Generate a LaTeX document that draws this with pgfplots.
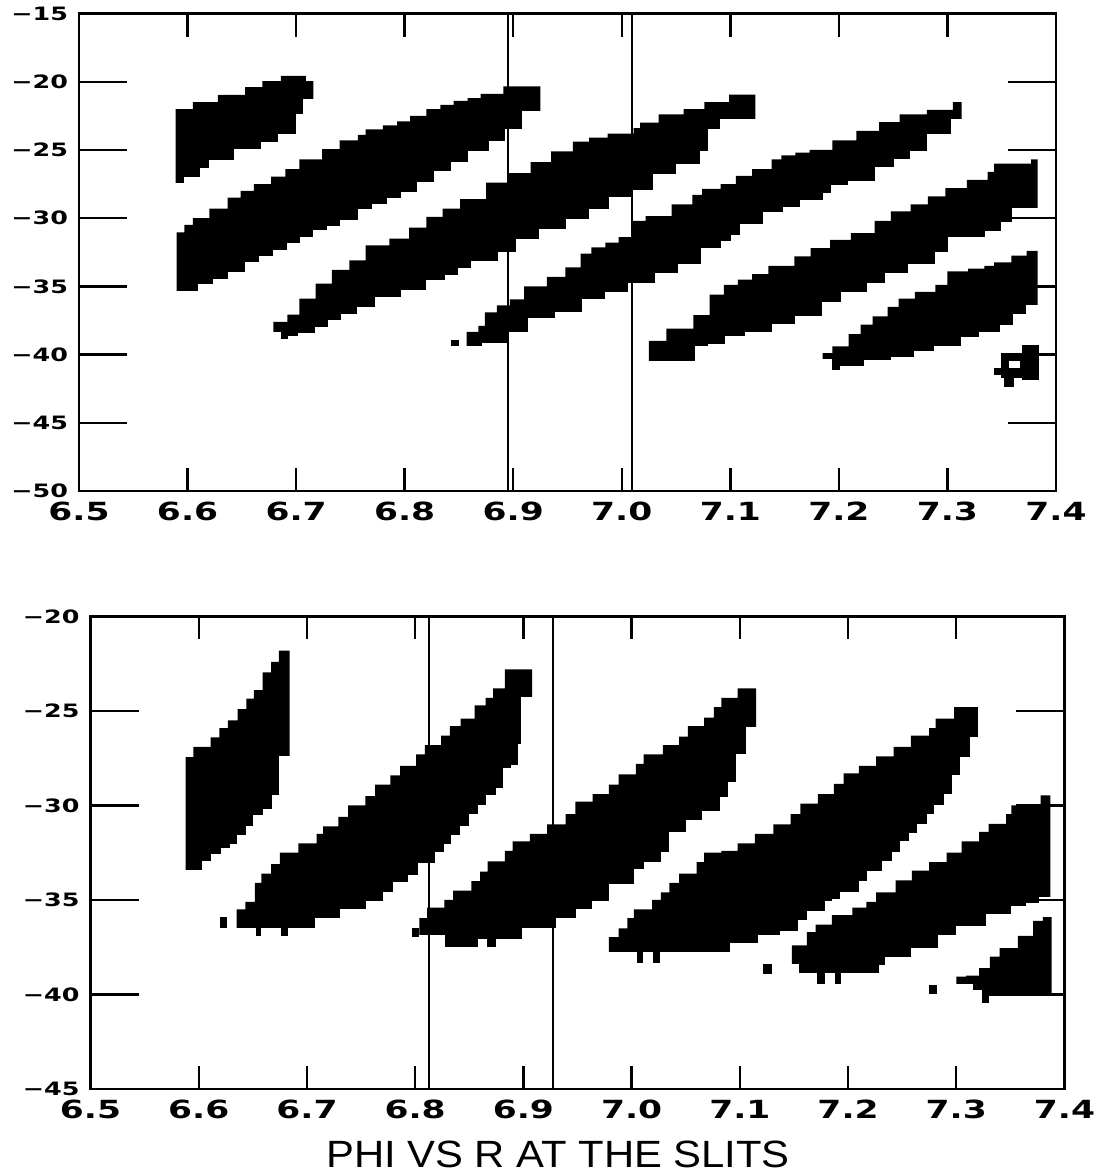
\documentclass[border=0pt]{standalone}
\usepackage{fontspec}
\usepackage{pgfplots}
\pgfplotsset{compat=1.18}
\setmainfont{Liberation Sans}
\newfontfamily\tickfont[FakeStretch=1.38]{DejaVu Sans}
\newfontfamily\titlefont[FakeStretch=1.1]{Liberation Sans}

% #1 left x, #2 upper edge, #3 lower edge, #4 right x
\newcommand{\blob}[4]{%
  \addplot[const plot, fill=black, draw=none, forget plot] coordinates {(#1,-60) #2 (#4,-60)};
  \addplot[const plot, fill=white, draw=white, line width=0.7pt, forget plot] coordinates {(#1,-60) #3 (#4,-60)};
}
\newcommand{\rect}[5][black]{%
  \addplot[fill=#1, draw=none, forget plot] coordinates {(#2,#3) (#4,#3) (#4,#5) (#2,#5)};
}

\pgfplotsset{
  panel/.style={
    scale only axis,
    axis on top,
    axis line style={line width=1.4pt},
    tick style={line width=1.2pt, black},
    xtick style={/pgfplots/major tick length=11.5pt},
    ytick style={/pgfplots/major tick length=24pt},
    xmin=6.5, xmax=7.4,
    xtick={6.5,6.6,6.7,6.8,6.9,7.0,7.1,7.2,7.3,7.4},
    xticklabels={6.5,6.6,6.7,6.8,6.9,7.0,7.1,7.2,7.3,7.4},
    xtick pos=both, ytick pos=both,
    xticklabel pos=lower, yticklabel pos=left,
    tick align=inside,
    xticklabel style={font=\tickfont\bfseries\fontsize{12.5}{13}\selectfont, yshift=-2pt},
    yticklabel style={font=\tickfont\bfseries\fontsize{9.2}{10}\selectfont, xshift=-2pt},
    anchor=south west,
  }
}

\begin{document}
\begin{tikzpicture}
\useasboundingbox (0,0) rectangle (550pt,587.5pt);

% ---------------- top panel ----------------
\begin{axis}[panel, at={(39.5pt,342pt)}, width=488.5pt, height=238.75pt,
  ymin=-50, ymax=-15, ytick={-50,-45,-40,-35,-30,-25,-20,-15},
  yticklabels={−50,−45,−40,−35,−30,−25,−20,−15}]

\blob{6.589}{(6.589,-22.0) (6.605,-21.5) (6.628,-20.97) (6.653,-20.4) (6.669,-19.96) (6.686,-19.57) (6.709,-19.96) (6.716,-19.96)}
{(6.589,-27.45) (6.597,-27.0) (6.612,-26.4) (6.620,-25.8) (6.643,-25.0) (6.668,-24.5) (6.684,-23.9) (6.701,-22.4) (6.707,-21.35) (6.716,-21.35)}{6.716}

\blob{6.590}{(6.590,-31.05) (6.597,-30.5) (6.605,-30.0) (6.620,-29.3) (6.637,-28.5) (6.649,-28.0) (6.661,-27.5) (6.677,-26.95) (6.690,-26.4) (6.703,-25.7) (6.724,-24.95) (6.740,-24.3) (6.757,-23.9) (6.764,-23.5) (6.780,-23.2) (6.793,-22.9) (6.805,-22.5) (6.820,-22.0) (6.833,-21.7) (6.845,-21.4) (6.858,-21.2) (6.870,-20.9) (6.891,-20.35) (6.925,-20.35)}
{(6.590,-35.4) (6.610,-34.9) (6.624,-34.5) (6.638,-34.0) (6.654,-33.3) (6.666,-32.8) (6.679,-32.4) (6.692,-31.9) (6.704,-31.4) (6.716,-30.9) (6.729,-30.6) (6.741,-30.2) (6.758,-29.4) (6.771,-29.0) (6.784,-28.6) (6.797,-28.1) (6.812,-27.4) (6.828,-26.6) (6.843,-25.9) (6.859,-25.1) (6.878,-24.4) (6.893,-23.5) (6.909,-22.2) (6.925,-22.2)}{6.925}

\blob{6.679}{(6.679,-37.6) (6.692,-37.07) (6.703,-35.9) (6.718,-34.8) (6.733,-33.8) (6.749,-33.1) (6.764,-32.0) (6.786,-31.5) (6.804,-30.7) (6.820,-29.9) (6.835,-29.3) (6.851,-28.6) (6.875,-27.4) (6.895,-26.7) (6.916,-25.9) (6.935,-25.1) (6.955,-24.4) (6.970,-24.1) (6.987,-23.8) (7.011,-23.4) (7.017,-23.0) (7.034,-22.4) (7.057,-22.0) (7.076,-21.5) (7.099,-20.95) (7.123,-20.95)}
{(6.679,-38.4) (6.685,-38.9) (6.693,-38.7) (6.702,-38.5) (6.718,-38.0) (6.730,-37.5) (6.742,-37.05) (6.757,-36.55) (6.773,-35.8) (6.797,-35.3) (6.820,-34.6) (6.838,-34.2) (6.850,-33.7) (6.862,-33.2) (6.887,-32.5) (6.903,-31.6) (6.924,-30.85) (6.949,-30.15) (6.970,-29.4) (6.989,-28.5) (7.010,-28.0) (7.029,-26.8) (7.051,-26.1) (7.073,-25.1) (7.080,-23.5) (7.091,-22.8) (7.123,-22.8)}{7.123}

\rect{6.843}{-39.4}{6.850}{-38.9}

\blob{6.857}{(6.857,-38.34) (6.868,-37.9) (6.874,-36.9) (6.885,-36.4) (6.897,-35.96) (6.910,-35.0) (6.931,-34.3) (6.948,-33.6) (6.962,-32.6) (6.972,-32.15) (6.985,-31.8) (6.997,-31.4) (7.009,-30.2) (7.022,-29.85) (7.046,-29.0) (7.065,-28.3) (7.074,-27.85) (7.091,-27.5) (7.105,-26.9) (7.120,-26.4) (7.138,-25.7) (7.147,-25.4) (7.160,-25.2) (7.173,-25.0) (7.194,-24.3) (7.216,-23.6) (7.237,-22.96) (7.256,-22.4) (7.281,-22.06) (7.305,-21.5) (7.313,-21.5)}
{(6.857,-39.4) (6.872,-39.2) (6.896,-38.4) (6.914,-37.4) (6.939,-36.95) (6.964,-36.0) (6.985,-35.5) (7.006,-34.8) (7.031,-34.1) (7.052,-33.4) (7.074,-32.25) (7.092,-31.75) (7.101,-31.26) (7.110,-30.5) (7.131,-29.6) (7.149,-29.25) (7.165,-28.75) (7.186,-28.2) (7.193,-27.6) (7.209,-27.3) (7.234,-26.3) (7.251,-25.7) (7.266,-25.1) (7.282,-23.9) (7.304,-22.8) (7.313,-22.8)}{7.313}

\blob{7.025}{(7.025,-39.0) (7.041,-38.1) (7.066,-37.1) (7.081,-35.6) (7.094,-34.9) (7.107,-34.5) (7.120,-34.1) (7.135,-33.5) (7.159,-32.8) (7.174,-32.2) (7.192,-31.6) (7.211,-31.1) (7.233,-30.2) (7.248,-29.5) (7.266,-29.0) (7.282,-28.4) (7.298,-27.8) (7.318,-27.2) (7.337,-26.6) (7.343,-26.0) (7.377,-25.7) (7.383,-25.7)}
{(7.025,-40.5) (7.068,-39.4) (7.080,-39.3) (7.096,-38.7) (7.114,-38.4) (7.139,-37.8) (7.160,-37.2) (7.185,-36.2) (7.203,-35.5) (7.227,-34.8) (7.243,-34.1) (7.264,-33.4) (7.289,-32.5) (7.301,-31.45) (7.335,-31.0) (7.350,-30.3) (7.360,-29.3) (7.383,-29.3)}{7.383}

\blob{7.185}{(7.185,-39.9) (7.194,-39.4) (7.209,-38.5) (7.220,-37.8) (7.231,-37.2) (7.245,-36.5) (7.255,-35.9) (7.270,-35.4) (7.289,-34.9) (7.300,-33.9) (7.319,-33.7) (7.334,-33.5) (7.343,-33.25) (7.359,-32.75) (7.373,-32.4) (7.383,-32.4)}
{(7.185,-40.4) (7.193,-41.2) (7.202,-40.9) (7.224,-40.45) (7.249,-40.2) (7.270,-39.8) (7.288,-39.4) (7.313,-38.8) (7.330,-38.4) (7.349,-37.9) (7.361,-37.1) (7.373,-36.4) (7.383,-36.4)}{7.383}

% small blob at the right edge
\rect{7.369}{-41.9}{7.384}{-39.3}
\rect{7.349}{-41.7}{7.369}{-39.9}
\rect{7.352}{-42.4}{7.361}{-41.7}
\rect{7.343}{-41.5}{7.349}{-40.95}
\rect[white]{7.357}{-41.0}{7.367}{-40.5}

\addplot[line width=1pt, forget plot] coordinates {(6.895,-50) (6.895,-15)};
\addplot[line width=1pt, forget plot] coordinates {(7.009,-50) (7.009,-15)};
\end{axis}

% ---------------- bottom panel ----------------
\begin{axis}[panel, at={(45.25pt,43pt)}, width=487pt, height=236.25pt,
  ymin=-45, ymax=-20, ytick={-45,-40,-35,-30,-25,-20},
  yticklabels={−45,−40,−35,−30,−25,−20}]

\blob{6.588}{(6.588,-27.44) (6.595,-26.9) (6.611,-26.4) (6.619,-25.9) (6.627,-25.5) (6.636,-24.9) (6.644,-24.35) (6.651,-23.9) (6.659,-22.95) (6.667,-22.4) (6.674,-21.8) (6.684,-21.8)}
{(6.588,-33.45) (6.604,-33.0) (6.612,-32.6) (6.621,-32.3) (6.630,-32.05) (6.636,-31.6) (6.644,-31.1) (6.651,-30.55) (6.660,-30.2) (6.668,-29.5) (6.675,-27.4) (6.684,-27.4)}{6.684}

\rect{6.620}{-36.5}{6.626}{-35.9}

\blob{6.635}{(6.635,-35.5) (6.643,-35.1) (6.652,-34.1) (6.658,-33.6) (6.667,-33.1) (6.675,-32.5) (6.692,-32.0) (6.709,-31.5) (6.715,-31.1) (6.729,-30.6) (6.738,-30.0) (6.754,-29.5) (6.763,-28.9) (6.777,-28.4) (6.786,-27.9) (6.801,-27.3) (6.809,-26.8) (6.824,-26.3) (6.832,-25.8) (6.842,-25.4) (6.855,-24.7) (6.865,-24.3) (6.872,-23.8) (6.883,-22.8) (6.908,-22.8)}
{(6.635,-36.5) (6.652,-36.95) (6.658,-36.5) (6.675,-36.95) (6.683,-36.5) (6.708,-36.0) (6.731,-35.5) (6.755,-35.1) (6.771,-34.6) (6.780,-34.1) (6.794,-33.7) (6.803,-33.1) (6.819,-32.5) (6.827,-32.1) (6.834,-31.6) (6.842,-31.1) (6.850,-30.5) (6.859,-30.0) (6.866,-29.5) (6.875,-29.1) (6.882,-28.05) (6.889,-27.9) (6.896,-26.8) (6.898,-24.3) (6.908,-24.3)}{6.908}

\rect{6.797}{-36.95}{6.804}{-36.5}

\blob{6.804}{(6.804,-35.96) (6.811,-35.4) (6.827,-35.0) (6.835,-34.5) (6.852,-34.0) (6.860,-33.5) (6.867,-32.95) (6.883,-32.4) (6.890,-31.9) (6.906,-31.5) (6.922,-31.0) (6.939,-30.45) (6.948,-29.8) (6.964,-29.4) (6.979,-28.9) (6.988,-28.35) (7.004,-27.8) (7.011,-27.3) (7.029,-26.8) (7.044,-26.35) (7.052,-25.8) (7.067,-25.35) (7.076,-24.8) (7.083,-24.3) (7.098,-23.8) (7.115,-23.8)}
{(6.804,-36.9) (6.827,-37.5) (6.859,-37.1) (6.866,-37.5) (6.875,-37.1) (6.899,-36.5) (6.931,-36.0) (6.949,-35.5) (6.964,-35.1) (6.980,-34.2) (7.003,-33.4) (7.012,-33.05) (7.028,-32.5) (7.035,-31.45) (7.051,-30.8) (7.066,-30.35) (7.082,-29.6) (7.090,-28.8) (7.097,-27.3) (7.106,-25.9) (7.115,-25.9)}{7.115}

\blob{6.979}{(6.979,-36.96) (6.988,-36.5) (6.996,-35.96) (7.002,-35.5) (7.019,-35.0) (7.027,-34.6) (7.035,-34.1) (7.044,-33.6) (7.060,-33.0) (7.067,-32.5) (7.083,-32.4) (7.098,-32.0) (7.114,-31.5) (7.131,-31.0) (7.147,-30.45) (7.156,-29.9) (7.172,-29.4) (7.187,-28.85) (7.196,-28.3) (7.210,-27.9) (7.226,-27.4) (7.242,-26.9) (7.258,-26.3) (7.275,-25.9) (7.281,-25.4) (7.298,-24.8) (7.320,-24.8)}
{(6.979,-37.8) (7.004,-38.35) (7.011,-37.8) (7.019,-38.35) (7.027,-37.8) (7.062,-37.8) (7.092,-37.3) (7.117,-36.9) (7.138,-36.7) (7.154,-36.1) (7.163,-35.6) (7.179,-35.1) (7.186,-35.0) (7.193,-34.6) (7.211,-34.05) (7.218,-33.5) (7.232,-33.0) (7.241,-32.5) (7.249,-31.9) (7.257,-31.5) (7.264,-31.0) (7.274,-30.5) (7.280,-30.0) (7.289,-29.45) (7.297,-28.4) (7.304,-27.45) (7.313,-26.4) (7.320,-26.4)}{7.320}

\rect{7.121}{-38.9}{7.130}{-38.4}

\blob{7.148}{(7.148,-37.4) (7.162,-36.7) (7.170,-36.3) (7.185,-35.8) (7.204,-35.4) (7.217,-35.1) (7.226,-34.6) (7.244,-33.96) (7.259,-33.45) (7.275,-33.0) (7.291,-32.5) (7.305,-31.9) (7.321,-31.4) (7.330,-30.97) (7.346,-30.45) (7.351,-30.0) (7.378,-29.46) (7.387,-29.46)}
{(7.148,-38.4) (7.154,-38.9) (7.171,-39.5) (7.179,-38.9) (7.187,-39.5) (7.194,-38.9) (7.229,-38.5) (7.235,-38.05) (7.259,-37.6) (7.284,-36.9) (7.300,-36.4) (7.328,-35.8) (7.351,-35.35) (7.365,-35.2) (7.377,-34.9) (7.387,-34.9)}{7.387}

\rect{7.275}{-40.0}{7.282}{-39.5}

\blob{7.300}{(7.300,-39.05) (7.309,-39.0) (7.321,-38.6) (7.331,-38.0) (7.340,-37.55) (7.357,-36.9) (7.371,-36.1) (7.380,-35.9) (7.388,-35.9)}
{(7.300,-39.5) (7.315,-39.8) (7.323,-40.5) (7.331,-40.1) (7.388,-40.1)}{7.388}

\addplot[line width=1pt, forget plot] coordinates {(6.813,-45) (6.813,-20)};
\addplot[line width=1pt, forget plot] coordinates {(6.927,-45) (6.927,-20)};
\end{axis}

\node[font=\titlefont\fontsize{19}{19}\selectfont, anchor=base] at (279pt,4pt) {PHI VS R AT THE SLITS};
\end{tikzpicture}
\end{document}
